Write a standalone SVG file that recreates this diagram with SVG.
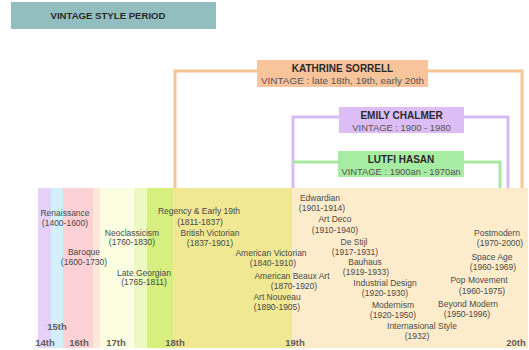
<svg xmlns="http://www.w3.org/2000/svg" width="529" height="350" viewBox="0 0 529 350">
<style>
text{font-family:"Liberation Sans",Arial,sans-serif;fill:#4a4a4a}
.lb{font-size:8.5px;text-anchor:middle}
.c{font-size:9.5px;font-weight:bold;fill:#5e5e5e;text-anchor:middle}
.nm{font-size:10px;font-weight:bold;fill:#2a2a2a;text-anchor:middle}
.vt{font-size:9.4px;fill:#555;text-anchor:middle}
.ln{fill:none;stroke-width:3}
</style>
<rect width="529" height="350" fill="#ffffff"/>
<g id="title">
<rect x="11" y="2" width="205" height="27" fill="#93bec0"/>
<text x="108" y="19" class="nm" style="font-size:9.6px">VINTAGE STYLE PERIOD</text>
</g>
<g id="bands">
<rect x="38" y="188" width="13" height="160" fill="#e6d2f8"/>
<rect x="51" y="188" width="12" height="160" fill="#d2f0fb"/>
<rect x="63" y="188" width="30" height="160" fill="#fcd1d5"/>
<rect x="93" y="188" width="7" height="160" fill="#fde7d8"/>
<rect x="100" y="188" width="34" height="160" fill="#fafde0"/>
<rect x="134" y="188" width="13" height="160" fill="#eef8c2"/>
<rect x="147" y="188" width="26" height="160" fill="#d6ef7e"/>
<rect x="173" y="188" width="119" height="160" fill="#f0e892"/>
<rect x="292" y="188" width="236" height="160" fill="#fdeccb"/>
</g>
<g id="connectors">
<polyline class="ln" stroke="#f6c596" points="175,188 175,71 522,71 522,188"/>
<polyline class="ln" stroke="#d9bbf4" points="293,188 293,117 508,117 508,188"/>
<polyline class="ln" stroke="#a9e7a2" points="293,162 500,162 500,188"/>
</g>
<g id="kathrine">
<rect x="257" y="60" width="171" height="27" fill="#f8c49b"/>
<text x="342.5" y="72" class="nm">KATHRINE SORRELL</text>
<text x="342.5" y="84" class="vt" textLength="163" lengthAdjust="spacingAndGlyphs">VINTAGE : late 18th, 19th, early 20th</text>
</g>
<g id="emily">
<rect x="339" y="107" width="125" height="26" fill="#dcbdf6"/>
<text x="401.5" y="119" class="nm">EMILY CHALMER</text>
<text x="401.5" y="130.5" class="vt">VINTAGE : 1900 - 1980</text>
</g>
<g id="lutfi">
<rect x="338" y="151" width="126" height="26" fill="#a6eca2"/>
<text x="401" y="163" class="nm">LUTFI HASAN</text>
<text x="401" y="174.5" class="vt">VINTAGE : 1900an - 1970an</text>
</g>
<g id="periods">
<text class="lb" x="65" y="216">Renaissance</text>
<text class="lb" x="65" y="226">(1400-1600)</text>
<text class="lb" x="84" y="255">Baroque</text>
<text class="lb" x="84" y="265">(1600-1730)</text>
<text class="lb" x="132" y="236">Neoclassicism</text>
<text class="lb" x="132" y="245">(1760-1830)</text>
<text class="lb" x="144" y="276">Late Georgian</text>
<text class="lb" x="144" y="285">(1765-1811)</text>
<text class="lb" x="199" y="214">Regency &amp; Early 19th</text>
<text class="lb" x="200" y="225">(1811-1837)</text>
<text class="lb" x="210" y="236">British Victorian</text>
<text class="lb" x="210" y="246">(1837-1901)</text>
<text class="lb" x="271" y="256">American Victorian</text>
<text class="lb" x="273" y="266">(1840-1910)</text>
<text class="lb" x="292" y="279">American Beaux Art</text>
<text class="lb" x="294" y="289">(1870-1920)</text>
<text class="lb" x="277" y="300">Art Nouveau</text>
<text class="lb" x="277" y="310">(1890-1905)</text>
<text class="lb" x="320" y="201">Edwardian</text>
<text class="lb" x="322" y="211">(1901-1914)</text>
<text class="lb" x="335" y="222">Art Deco</text>
<text class="lb" x="335" y="233">(1910-1940)</text>
<text class="lb" x="354" y="245">De Stijl</text>
<text class="lb" x="355" y="255">(1917-1931)</text>
<text class="lb" x="365" y="265">Bauhaus</text>
<text class="lb" x="366" y="274.5">(1919-1933)</text>
<text class="lb" x="385" y="286">Industrial Design</text>
<text class="lb" x="385" y="296">(1920-1930)</text>
<text class="lb" x="393" y="308">Modernism</text>
<text class="lb" x="393" y="318">(1920-1950)</text>
<text class="lb" x="422" y="329">Internasional Style</text>
<text class="lb" x="417" y="338.5">(1932)</text>
<text class="lb" x="497" y="236">Postmodern</text>
<text class="lb" x="500" y="246">(1970-2000)</text>
<text class="lb" x="492" y="260">Space Age</text>
<text class="lb" x="493" y="270">(1960-1969)</text>
<text class="lb" x="479" y="283">Pop Movement</text>
<text class="lb" x="482" y="294">(1960-1975)</text>
<text class="lb" x="468" y="307">Beyond Modern</text>
<text class="lb" x="467" y="317">(1950-1996)</text>
</g>
<g id="centuries">
<text class="c" x="57" y="330">15th</text>
<text class="c" x="45" y="346">14th</text>
<text class="c" x="79" y="346">16th</text>
<text class="c" x="116" y="346">17th</text>
<text class="c" x="175" y="346">18th</text>
<text class="c" x="295" y="346">19th</text>
<text class="c" x="516" y="346">20th</text>
</g>
</svg>
